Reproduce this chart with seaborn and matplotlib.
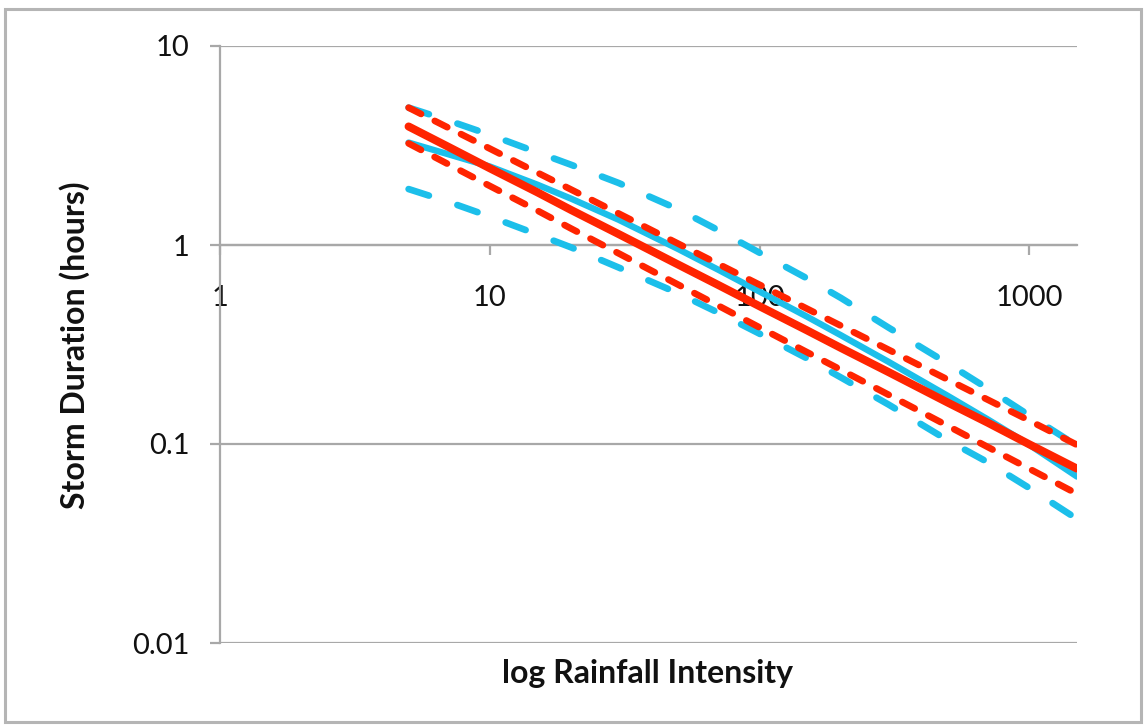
import matplotlib
matplotlib.use("Agg")
import matplotlib.pyplot as plt
from matplotlib.patches import Rectangle
from matplotlib.ticker import NullLocator
import seaborn as sns
import pandas as pd

# ---- data ----
intensity = [5, 7, 10, 15, 20, 30, 50, 70, 100, 150, 200, 300, 500, 700, 1000, 1500]

blue_fit   = [3.27, 2.86, 2.48, 2.01, 1.71, 1.34, 0.953, 0.753, 0.583, 0.436, 0.352, 0.259, 0.174, 0.133, 0.099, 0.0686]
blue_upper = [4.90, 4.23, 3.58, 2.92, 2.53, 2.05, 1.51, 1.19, 0.914, 0.679, 0.542, 0.385, 0.253, 0.190, 0.139, 0.098]
blue_lower = [1.91, 1.65, 1.39, 1.13, 0.973, 0.771, 0.571, 0.458, 0.358, 0.269, 0.216, 0.158, 0.104, 0.081, 0.060, 0.042]

red_fit    = [3.94, 3.12, 2.43, 1.84, 1.50, 1.135, 0.796, 0.631, 0.492, 0.372, 0.304, 0.230, 0.161, 0.128, 0.0995, 0.0752]
red_upper  = [4.90, 3.89, 3.05, 2.31, 1.90, 1.44, 1.014, 0.805, 0.631, 0.478, 0.393, 0.298, 0.210, 0.167, 0.131, 0.099]
red_lower  = [3.24, 2.55, 1.98, 1.49, 1.21, 0.908, 0.631, 0.497, 0.385, 0.289, 0.236, 0.177, 0.123, 0.0966, 0.075, 0.0562]

x_ticks = [1, 10, 100, 1000]
x_tick_labels = ["1", "10", "100", "1000"]
y_ticks = [0.01, 0.1, 1, 10]
y_tick_labels = ["0.01", "0.1", "1", "10"]

x_title = "log Rainfall Intensity"
y_title = "Storm Duration (hours)"

# ---- style ----
sns.set_style("white")
plt.rcParams["font.family"] = ["Lato", "DejaVu Sans"]

BLUE = "#1cbfea"
RED = "#ff2400"
GRID = "#a8a8a8"
TEXT = "#111111"

fig = plt.figure(figsize=(11.46, 7.28), dpi=100)
W, H = 1146, 728
ax = fig.add_axes([220 / W, 1 - 643 / H, (1077 - 220) / W, (643 - 46) / H])

series = [
    ("blue_fit", blue_fit, BLUE, "-", 4.6),
    ("blue_upper", blue_upper, BLUE, (0, (3.2, 4.5)), 4.8),
    ("blue_lower", blue_lower, BLUE, (0, (3.2, 4.5)), 4.8),
    ("red_upper", red_upper, RED, (0, (2.1, 2.3)), 4.8),
    ("red_lower", red_lower, RED, (0, (2.1, 2.3)), 4.8),
    ("red_fit", red_fit, RED, "-", 5.8),
]

for name, vals, col, ls, lw in series:
    df = pd.DataFrame({"x": intensity, "y": vals})
    sns.lineplot(data=df, x="x", y="y", ax=ax, color=col, linewidth=lw,
                 linestyle=ls, sort=False, estimator=None,
                 dash_capstyle="round", solid_capstyle="round", zorder=3)

ax.set_xscale("log")
ax.set_yscale("log")
ax.set_xlim(1, 1500)
ax.set_ylim(0.01, 10)

ax.set_xticks(x_ticks)
ax.set_xticklabels(x_tick_labels)
ax.set_yticks(y_ticks)
ax.set_yticklabels(y_tick_labels)
ax.xaxis.set_minor_locator(NullLocator())
ax.yaxis.set_minor_locator(NullLocator())

ax.set_axisbelow(True)
ax.yaxis.grid(True, color=GRID, linewidth=1.6)
ax.xaxis.grid(False)

for s in ("top", "right"):
    ax.spines[s].set_visible(False)
ax.spines["left"].set_color(GRID)
ax.spines["left"].set_linewidth(1.6)
ax.spines["bottom"].set_position(("data", 1))
ax.spines["bottom"].set_color(GRID)
ax.spines["bottom"].set_linewidth(1.6)

ax.tick_params(axis="y", which="major", left=True, length=7, width=1.6,
               color=GRID, pad=15, labelsize=21, labelcolor=TEXT, direction="out")
ax.tick_params(axis="x", which="major", bottom=True, length=7, width=1.6,
               color=GRID, pad=22, labelsize=21, labelcolor=TEXT, direction="out")

ax.set_xlabel("")
ax.set_ylabel("")
fig.text(648 / W, 1 - 673 / H, x_title, ha="center", va="center",
         fontsize=23, fontweight="bold", color=TEXT)
fig.text(75 / W, 1 - 345 / H, y_title, ha="center", va="center",
         rotation=90, fontsize=23, fontweight="bold", color=TEXT)

fig.patches.append(Rectangle((5 / W, 1 - 722 / H), (1141 - 5) / W, (722 - 9) / H,
                             transform=fig.transFigure, fill=False,
                             edgecolor="#b5b5b5", linewidth=2.2))

fig.savefig("out.png", dpi=100)
